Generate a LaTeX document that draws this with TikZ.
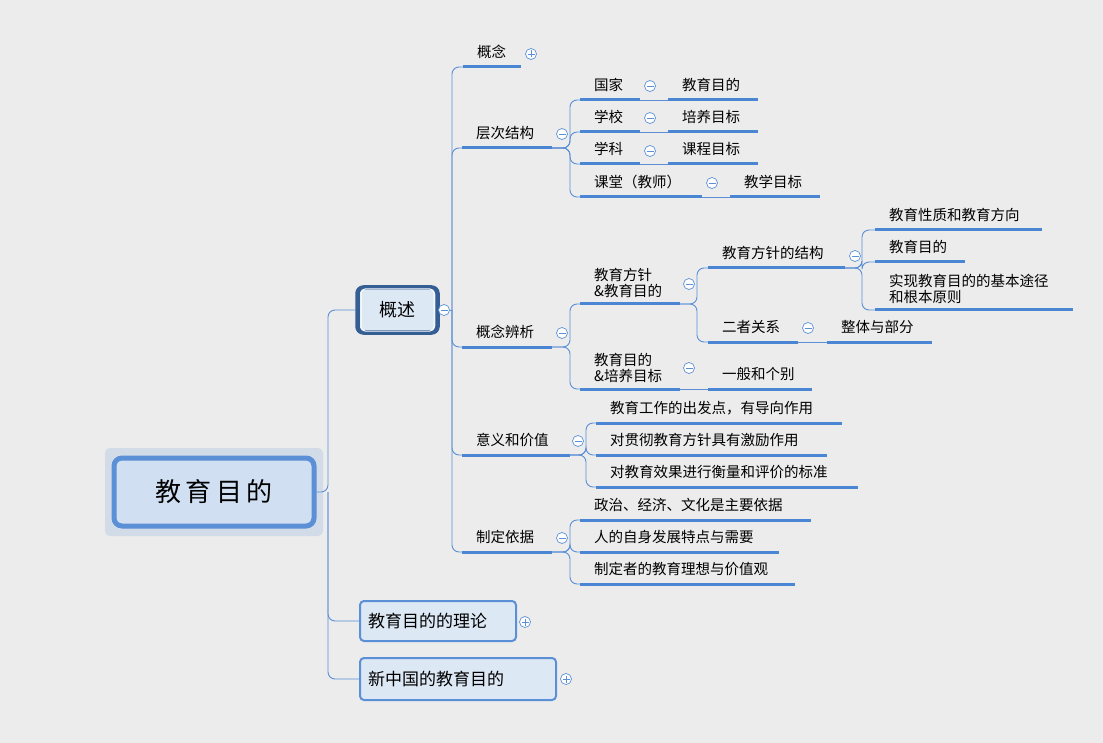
\documentclass[tikz,border=0pt]{standalone}
\usepackage{fontspec}
\setmainfont{Noto Sans CJK SC}
\usetikzlibrary{calc}
\definecolor{bg}{HTML}{ECECEC}
\definecolor{ln}{HTML}{5B8FD6}
\definecolor{ul}{HTML}{4A86D4}
\definecolor{bx}{HTML}{DDE8F5}
\tikzset{
  thin line/.style={draw=ln,line width=0.9pt,rounded corners=7},
  uline/.style={draw=ul,line width=3pt},
  txt/.style={anchor=west,inner sep=0pt,font=\fontsize{14.5}{16}\selectfont,align=left},
  icon/.style={circle,draw=ln,fill=white,line width=0.7pt,minimum size=11pt,inner sep=0pt},
}
\newcommand\tp[6]{% name x1 x2 y dy text
  \draw[uline] (#2,#4) -- (#3,#4);
  \coordinate (#1-l) at (#2,#4); \coordinate (#1-r) at (#3,#4);
  \node[txt] (#1) at (#2+14,#4-#5) {#6};}
\newcommand\mi[3]{\node[icon] (#1) at (#2,#3) {}; \draw[ln,line width=0.9pt] ($(#1)+(-3.5,0)$) -- ($(#1)+(3.5,0)$);}
\newcommand\pl[3]{\node[icon] (#1) at (#2,#3) {}; \draw[ln,line width=0.9pt] ($(#1)+(-3.5,0)$) -- ($(#1)+(3.5,0)$) ($(#1)+(0,-3.5)$) -- ($(#1)+(0,3.5)$);}
\begin{document}
\begin{tikzpicture}[x=1pt,y=-1pt]
\fill[bg] (0,0) rectangle (1103,743);
\useasboundingbox (0,0) rectangle (1103,743);
% root
\node[draw=none,fill=ln!18!bg,rounded corners=5,minimum width=218pt,minimum height=88pt] (halo) at (214,492) {};
\node[draw=ln,fill=bx!90!ln,line width=5pt,rounded corners=8,minimum width=200pt,minimum height=68pt,font=\fontsize{26}{28}\selectfont] (root) at (214,492) {教\,育\,目\,的};
% level 1
\node[draw=ul!70!black,line width=4.5pt,fill=bx,rounded corners=6,minimum width=80pt,minimum height=45pt,font=\fontsize{18}{20}\selectfont] (gs) at (397.5,310) {概述};
\draw[draw=white,line width=1pt,rounded corners=4] (361,289) rectangle (434,331);
\node[draw=ln,line width=2pt,fill=bx,rounded corners=4,minimum width=156pt,minimum height=40pt,text width=140pt,align=left,font=\fontsize{17}{19}\selectfont] (ll) at (438,621) {教育目的的理论};
\node[draw=ln,line width=2pt,fill=bx,rounded corners=4,minimum width=196pt,minimum height=42pt,text width=180pt,align=left,font=\fontsize{17}{19}\selectfont] (xz) at (458,679) {新中国的教育目的};
\pl{pll}{525}{622}
\pl{plx}{566}{679}
\coordinate (rs) at (328,492);
\draw[thin line] (root.east) -- (rs) |- (gs.west);
\draw[thin line] (rs) |- (ll.west);
\draw[thin line] (rs) |- (xz.west);
% children of 概述
\tp{gn}{463}{521}{67}{15}{概念}
\tp{cc}{462}{552}{148}{15}{层次结构}
\tp{bx}{462}{552}{347}{15}{概念辨析}
\tp{yy}{462}{570}{455}{15}{意义和价值}
\tp{zd}{462}{552}{552}{15}{制定依据}
\mi{gsm}{444}{310}
\pl{gnp}{531}{54}
\coordinate (sp) at (452,310);
\draw[thin line] (gsm.east) -- (sp);
\foreach \c in {gn,cc,bx,yy,zd} {\draw[thin line] (sp) |- (\c-l);}
% 层次结构
\mi{ccm}{562}{134}
\tp{gj}{580}{640}{100}{15}{国家}
\tp{xx}{580}{640}{132}{15}{学校}
\tp{xk}{580}{640}{164}{15}{学科}
\tp{kt}{580}{702}{197}{15}{课堂（教师）}
\foreach \c in {gj,xx,xk,kt} {\draw[thin line] (cc-r) -- ($(cc-r)+(18,0)$) |- (\c-l);}
\tp{m1}{668}{758}{100}{15}{教育目的}
\tp{m2}{668}{758}{132}{15}{培养目标}
\tp{m3}{668}{758}{164}{15}{课程目标}
\tp{m4}{730}{820}{197}{15}{教学目标}
\mi{gjm}{650}{86}\mi{xxm}{650}{118}\mi{xkm}{650}{151}\mi{ktm}{712}{183}
\draw[thin line] (gj-r) -- (m1-l); \draw[thin line] (xx-r) -- (m2-l);
\draw[thin line] (xk-r) -- (m3-l); \draw[thin line] (kt-r) -- (m4-l);
% 概念辨析
\mi{bxm}{562}{333}
\tp{fz}{580}{680}{304}{21}{教育方针\\\&教育目的}
\tp{pm}{580}{680}{389}{21}{教育目的\\\&培养目标}
\foreach \c in {fz,pm} {\draw[thin line] (bx-r) -- ($(bx-r)+(18,0)$) |- (\c-l);}
\mi{fzm}{689}{284}\mi{pmm}{689}{368}
\tp{jg}{708}{845}{268}{15}{教育方针的结构}
\tp{gx}{708}{798}{342}{15}{二者关系}
\foreach \c in {jg,gx} {\draw[thin line] (fz-r) -- ($(fz-r)+(17,0)$) |- (\c-l);}
\mi{jgm}{855}{256}\mi{gxm}{808}{328}
\tp{a1}{875}{1042}{230}{15}{教育性质和教育方向}
\tp{a2}{875}{965}{262}{15}{教育目的}
\tp{a3}{875}{1073}{310}{21}{实现教育目的的基本途径\\和根本原则}
\foreach \c in {a1,a2,a3} {\draw[thin line] (jg-r) -- ($(jg-r)+(17,0)$) |- (\c-l);}
\tp{zt}{827}{932}{342}{15}{整体与部分}
\draw[thin line] (gx-r) -- (zt-l);
\tp{yb}{708}{812}{389}{15}{一般和个别}
\draw[thin line] (pm-r) -- (yb-l);
% 意义和价值
\mi{yym}{578}{441}
\tp{y1}{596}{842}{423}{15}{教育工作的出发点，有导向作用}
\tp{y2}{596}{827}{455}{15}{对贯彻教育方针具有激励作用}
\tp{y3}{596}{858}{487}{15}{对教育效果进行衡量和评价的标准}
\foreach \c in {y1,y2,y3} {\draw[thin line] (yy-r) -- ($(yy-r)+(16,0)$) |- (\c-l);}
% 制定依据
\mi{zdm}{562}{538}
\tp{z1}{580}{811}{520}{15}{政治、经济、文化是主要依据}
\tp{z2}{580}{779}{552}{15}{人的自身发展特点与需要}
\tp{z3}{580}{795}{584}{15}{制定者的教育理想与价值观}
\foreach \c in {z1,z2,z3} {\draw[thin line] (zd-r) -- ($(zd-r)+(18,0)$) |- (\c-l);}
\end{tikzpicture}
\end{document}
